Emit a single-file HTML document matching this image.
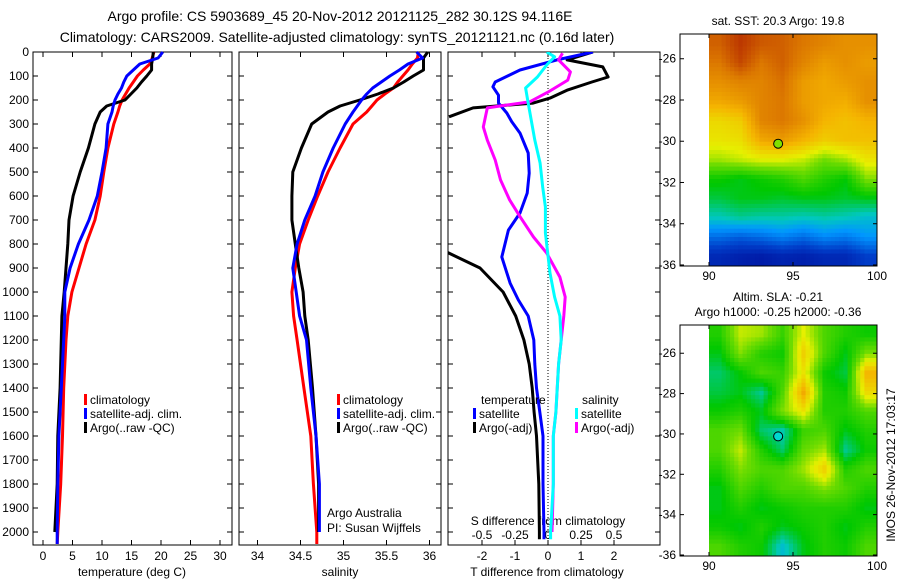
<!DOCTYPE html>
<html><head><meta charset="utf-8"><style>
body{margin:0;background:#fff}
svg{display:block;font-family:"Liberation Sans",sans-serif}
</style></head><body>
<svg id="c" width="900" height="580" viewBox="0 0 900 580" xmlns="http://www.w3.org/2000/svg">
<text x="340" y="21" font-size="14" text-anchor="middle">Argo profile: CS 5903689_45 20-Nov-2012 20121125_282 30.12S 94.116E</text>
<text x="337" y="42" font-size="14" text-anchor="middle">Climatology: CARS2009. Satellite-adjusted climatology: synTS_20121121.nc (0.16d later)</text>
<text x="778" y="25" font-size="12" text-anchor="middle">sat. SST: 20.3 Argo: 19.8</text>
<text x="778" y="301" font-size="12" text-anchor="middle">Altim. SLA: -0.21</text>
<text x="778" y="316" font-size="12" text-anchor="middle">Argo h1000: -0.25 h2000: -0.36</text>
<text transform="translate(895,465) rotate(-90)" font-size="12" text-anchor="middle">IMOS 26-Nov-2012 17:03:17</text>
<g id="g"></g>
</svg>
<script>
// ---- data ----
const depthTicks=[0,100,200,300,400,500,600,700,800,900,1000,1100,1200,1300,1400,1500,1600,1700,1800,1900,2000];
const tempTicks=[0,5,10,15,20,25,30];
const salTicks=[34,34.5,35,35.5,36];
const salTickLabels=["34","34.5","35","35.5","36"];
const tdTicks=[-2,-1,0,1,2];
const sdTicks=[-0.5,-0.25,0,0.25,0.5];
const sdTickLabels=["-0.5","-0.25","0","0.25","0.5"];
const depthP=[0,25,50,75,100,125,150,175,200,225,250,300,400,500,600,700,800,900,1000,1100,1200,1400,1600,1800,2000,2050];
const tempClim=[18.8,18.5,18.1,17.0,16.0,15.3,14.6,14.0,13.4,13.0,12.7,12.0,11.0,10.3,9.7,8.8,7.3,6.1,4.9,4.2,3.9,3.5,3.3,3.0,2.5,2.4];
const tempSat=[20.3,19.5,16.4,15.3,14.2,13.7,13.3,12.7,12.2,11.9,11.7,11.0,10.7,10.0,9.2,7.8,6.0,4.6,3.7,3.7,3.5,3.1,2.7,2.5,2.4,2.4];
const tempArgo=[18.7,18.6,18.4,18.4,17.6,16.7,15.9,14.9,13.9,10.8,9.7,8.8,7.7,6.3,5.1,4.4,4.2,3.9,3.6,3.2,3.1,2.9,2.5,2.4,2.0,null];
const salClim=[35.87,35.86,35.8,35.75,35.69,35.63,35.58,35.48,35.39,35.33,35.27,35.11,34.96,34.82,34.70,34.59,34.49,34.44,34.40,34.42,34.46,34.54,34.62,34.65,34.69,34.69];
const salSat=[35.85,35.92,35.75,35.65,35.54,35.44,35.34,35.27,35.21,35.16,35.11,35.02,34.88,34.76,34.67,34.55,34.46,34.41,34.45,34.49,34.57,34.62,34.68,34.72,34.72,null];
const salArgo=[35.98,35.93,35.93,35.93,35.81,35.70,35.58,35.40,35.19,34.96,34.82,34.63,34.51,34.41,34.40,34.40,34.44,34.48,34.53,34.55,34.59,34.64,34.68,34.71,34.71,null];
const tdSatDepth=[0,33,75,125,145,180,213,254,290,338,421,505,588,671,742,854,963,1033,1100,1200,1300,1400,1500,1600,1800,2000,2030];
const tdSat=[1.36,0.27,-0.85,-1.6,-1.67,-1.5,-1.5,-1.25,-1.1,-0.85,-0.6,-0.57,-0.63,-0.85,-1.2,-1.4,-1.15,-0.9,-0.6,-0.43,-0.4,-0.35,-0.25,-0.15,-0.15,-0.12,-0.12];
const tdArgoDepth=[0,33,62,104,125,158,192,213,233,270,280,835,900,1000,1100,1200,1300,1400,1500,1600,1800,2000,2030];
const tdArgo=[1.36,0.58,1.66,1.82,1.33,0.6,0.06,-0.45,-2.27,-3.0,null,-3.05,-2.06,-1.36,-0.98,-0.73,-0.57,-0.48,-0.42,-0.35,-0.28,-0.26,-0.26];
const sdSatDepth=[0,20,54,104,150,213,367,463,563,646,754,921,1021,1100,1200,1300,1500,1600,1800,2000,2030];
const sdSat=[-0.01,0.05,-0.01,-0.08,-0.17,-0.15,-0.1,-0.06,-0.04,-0.02,-0.02,0.015,0.05,0.09,0.1,0.08,0.06,0.04,0.04,0.02,0.02];
const sdArgoDepth=[5,33,83,117,167,208,221,233,312,367,450,533,617,688,771,838,938,1021,1100,1200,1300,1500,1600,1800,2000];
const sdArgo=[0.11,0.08,0.17,0.15,0,-0.14,-0.31,-0.46,-0.49,-0.46,-0.4,-0.36,-0.29,-0.21,-0.11,-0.01,0.09,0.13,0.12,0.1,0.08,0.06,0.04,0.04,0.03];
const mapLonTicks=[90,95,100];
const mapLatTicks=[-26,-28,-30,-32,-34,-36];
const sstGrid=[
[0.85,0.90,0.86,0.85,0.82,0.80,0.78,0.78],
[0.82,0.88,0.82,0.85,0.80,0.76,0.78,0.76],
[0.78,0.80,0.80,0.83,0.76,0.74,0.76,0.78],
[0.74,0.76,0.80,0.82,0.76,0.74,0.73,0.78],
[0.66,0.68,0.80,0.82,0.78,0.72,0.70,0.72],
[0.64,0.65,0.74,0.76,0.72,0.68,0.70,0.70],
[0.58,0.60,0.62,0.62,0.60,0.55,0.58,0.64],
[0.46,0.44,0.46,0.48,0.52,0.48,0.45,0.56],
[0.42,0.44,0.44,0.43,0.44,0.44,0.43,0.44],
[0.36,0.38,0.37,0.37,0.36,0.37,0.36,0.34],
[0.22,0.20,0.22,0.25,0.22,0.26,0.24,0.28],
[0.10,0.08,0.07,0.09,0.08,0.10,0.10,0.15]];
const slaGrid=[
[0.48,0.60,0.58,0.50,0.62,0.52,0.48,0.46],
[0.44,0.56,0.48,0.46,0.68,0.52,0.44,0.56],
[0.40,0.45,0.52,0.50,0.64,0.46,0.42,0.72],
[0.42,0.44,0.38,0.52,0.74,0.48,0.46,0.66],
[0.46,0.48,0.44,0.56,0.64,0.48,0.48,0.52],
[0.52,0.55,0.40,0.36,0.50,0.52,0.44,0.48],
[0.52,0.60,0.48,0.40,0.54,0.58,0.38,0.46],
[0.48,0.56,0.52,0.52,0.58,0.68,0.48,0.52],
[0.44,0.52,0.48,0.52,0.52,0.56,0.52,0.48],
[0.44,0.48,0.44,0.46,0.48,0.48,0.48,0.44],
[0.46,0.44,0.48,0.44,0.46,0.48,0.44,0.48],
[0.52,0.48,0.46,0.34,0.44,0.48,0.46,0.52]];
const argoLon=94.116, argoLat=-30.12;

// ---- drawing ----
const NS='http://www.w3.org/2000/svg', G=document.getElementById('g');
function mk(t,a,p){const e=document.createElementNS(NS,t);for(const k in a)e.setAttribute(k,a[k]);(p||G).appendChild(e);return e;}
const TOP=52,BOT=545;
const yD=d=>TOP+0.24*d;
const xT=v=>43+5.9*v, xS=v=>257.5+86*(v-34), xTD=v=>548+33*v, xSD=v=>548+132*v;
const panels=[[33,232],[239,441],[448,660]];
function txt(x,y,s,anchor,size){const t=mk('text',{x:x,y:y,'font-size':size||12,'text-anchor':anchor||'middle'});t.textContent=s;return t;}
panels.forEach((p,i)=>{
  const r=mk('rect',{x:p[0],y:TOP,width:p[1]-p[0],height:BOT-TOP,fill:'none',stroke:'#000','stroke-width':1});
  
  
  depthTicks.forEach(d=>{mk('line',{x1:p[0],x2:p[0]+5,y1:yD(d),y2:yD(d),stroke:'#000'});mk('line',{x1:p[1]-5,x2:p[1],y1:yD(d),y2:yD(d),stroke:'#000'});});
});
depthTicks.forEach(d=>{const t=txt(29,yD(d)+4,String(d),'end',12);});
function xticks(vals,labels,fx){vals.forEach((v,i)=>{const x=fx(v);mk('line',{x1:x,x2:x,y1:TOP,y2:TOP+5,stroke:'#000'});mk('line',{x1:x,x2:x,y1:BOT-5,y2:BOT,stroke:'#000'});const t=txt(x,560,labels[i]);});}
xticks(tempTicks,tempTicks.map(String),xT);
xticks(salTicks,salTickLabels,xS);
xticks(tdTicks,tdTicks.map(String),xTD);
sdTicks.forEach((v,i)=>{const t=txt(xSD(v),539,sdTickLabels[i]);});
[[132,'temperature (deg C)'],[340,'salinity'],[547,'T difference from climatology']].forEach(a=>{const t=txt(a[0],576,a[1]);});
let t=txt(548,525,'S difference from climatology');
t=txt(327,517,'Argo Australia','start');
t=txt(327,532,'PI: Susan Wijffels','start');
mk('line',{x1:548,x2:548,y1:TOP,y2:BOT,stroke:'#000','stroke-dasharray':'1,2'});
const defs=mk('defs',{});const cp=mk('clipPath',{id:'cp3'},defs);mk('rect',{x:448,y:TOP,width:212,height:BOT-TOP},cp);
function line(depths,vals,fx,color,name,clip){
  let d='',pen=false;
  vals.forEach((v,i)=>{if(v===null){pen=false;return;}d+=(pen?'L':'M')+fx(v).toFixed(1)+','+yD(depths[i]).toFixed(1);pen=true;});
  const a={d:d,fill:'none',stroke:color,'stroke-width':3,'stroke-linejoin':'round'};if(clip)a['clip-path']='url(#cp3)';
  const e=mk('path',a);
  
  
}
line(depthP,tempClim,xT,'#f00','temp-climatology-line');
line(depthP,tempArgo,xT,'#000','temp-argo-line');
line(depthP,tempSat,xT,'#00f','temp-satellite-line');
line(depthP,salClim,xS,'#f00','sal-climatology-line');
line(depthP,salArgo,xS,'#000','sal-argo-line');
line(depthP,salSat,xS,'#00f','sal-satellite-line');
line(tdArgoDepth,tdArgo,xTD,'#000','tdiff-argo-line',true);
line(tdSatDepth,tdSat,xTD,'#00f','tdiff-satellite-line',true);
line(sdArgoDepth,sdArgo,xSD,'#f0f','sdiff-argo-line',true);
line(sdSatDepth,sdSat,xSD,'#0ff','sdiff-satellite-line',true);
function leg(x,y,color,label){mk('rect',{x:x,y:y-10,width:3,height:11,fill:color});const t=txt(x+6,y,label,'start');}
[[84,'#f00','climatology'],[84,'#00f','satellite-adj. clim.'],[84,'#000','Argo(..raw -QC)']].forEach((a,i)=>leg(a[0],404+i*14,a[1],a[2]));
[[337,'#f00','climatology'],[337,'#00f','satellite-adj. clim.'],[337,'#000','Argo(..raw -QC)']].forEach((a,i)=>leg(a[0],404+i*14,a[1],a[2]));
t=txt(481,404,'temperature','start');
t=txt(582,404,'salinity','start');
leg(473,418,'#00f','satellite');leg(473,432,'#000','Argo(-adj)');
leg(575,418,'#0ff','satellite');leg(575,432,'#f0f','Argo(-adj)');
// colormap
const cmapStops=[[0,0,0,140],[0.15,0,60,200],[0.28,0,150,255],[0.36,0,200,190],[0.45,0,200,0],[0.55,110,220,0],[0.62,230,240,0],[0.72,245,180,0],[0.82,220,120,0],[0.92,180,40,0],[1,150,0,0]];
function cmap(v){v=Math.max(0,Math.min(1,v));for(let i=1;i<cmapStops.length;i++){const a=cmapStops[i-1],b=cmapStops[i];if(v<=b[0]){const f=(v-a[0])/(b[0]-a[0]);return `rgb(${Math.round(a[1]+f*(b[1]-a[1]))},${Math.round(a[2]+f*(b[2]-a[2]))},${Math.round(a[3]+f*(b[3]-a[3]))})`;}}return 'rgb(150,0,0)';}
function sample(grid,u,v){const rows=grid.length,cols=grid[0].length;const x=Math.max(0,Math.min(cols-1,u*cols-0.5)),y=Math.max(0,Math.min(rows-1,v*rows-0.5));const x0=Math.floor(x),y0=Math.floor(y),x1=Math.min(cols-1,x0+1),y1=Math.min(rows-1,y0+1),fx=x-x0,fy=y-y0;return grid[y0][x0]*(1-fx)*(1-fy)+grid[y0][x1]*fx*(1-fy)+grid[y1][x0]*(1-fx)*fy+grid[y1][x1]*fx*fy;}
function map(grid,top,bot,latTop,latBot,name,dotColor){
  const L=709,R=877,fx=lon=>L+(lon-90)*(R-L)/10,fy=lat=>top+(lat-latTop)*(bot-top)/(latBot-latTop);
  const NC=40,NR=56,cw=(R-L)/NC,ch=(bot-top)/NR;
  for(let i=0;i<NR;i++)for(let j=0;j<NC;j++){mk('rect',{x:(L+j*cw).toFixed(2),y:(top+i*ch).toFixed(2),width:(cw+0.5).toFixed(2),height:(ch+0.5).toFixed(2),fill:cmap(sample(grid,(j+0.5)/NC,(i+0.5)/NR))});}
  const fr=mk('rect',{x:680,y:top,width:R-680,height:bot-top,fill:'none',stroke:'#000'});
  
  
  mapLatTicks.forEach(l=>{const y=fy(l);mk('line',{x1:680,x2:684,y1:y,y2:y,stroke:'#000'});mk('line',{x1:R-4,x2:R,y1:y,y2:y,stroke:'#000'});const t=txt(676,y+4,String(l),'end');});
  mapLonTicks.forEach(l=>{const x=fx(l);mk('line',{x1:x,x2:x,y1:top,y2:top+4,stroke:'#000'});mk('line',{x1:x,x2:x,y1:bot-4,y2:bot,stroke:'#000'});const t=txt(x,bot+14,String(l));});
  const c=mk('circle',{cx:fx(argoLon),cy:fy(argoLat),r:4.5,fill:dotColor,stroke:'#000'});
  
  
}
map(sstGrid,34,266,-24.8,-36.05,'sst-map','#80e000');
map(slaGrid,325,556,-24.6,-36.05,'sla-map','#00d8d0');
</script>
</body></html>
